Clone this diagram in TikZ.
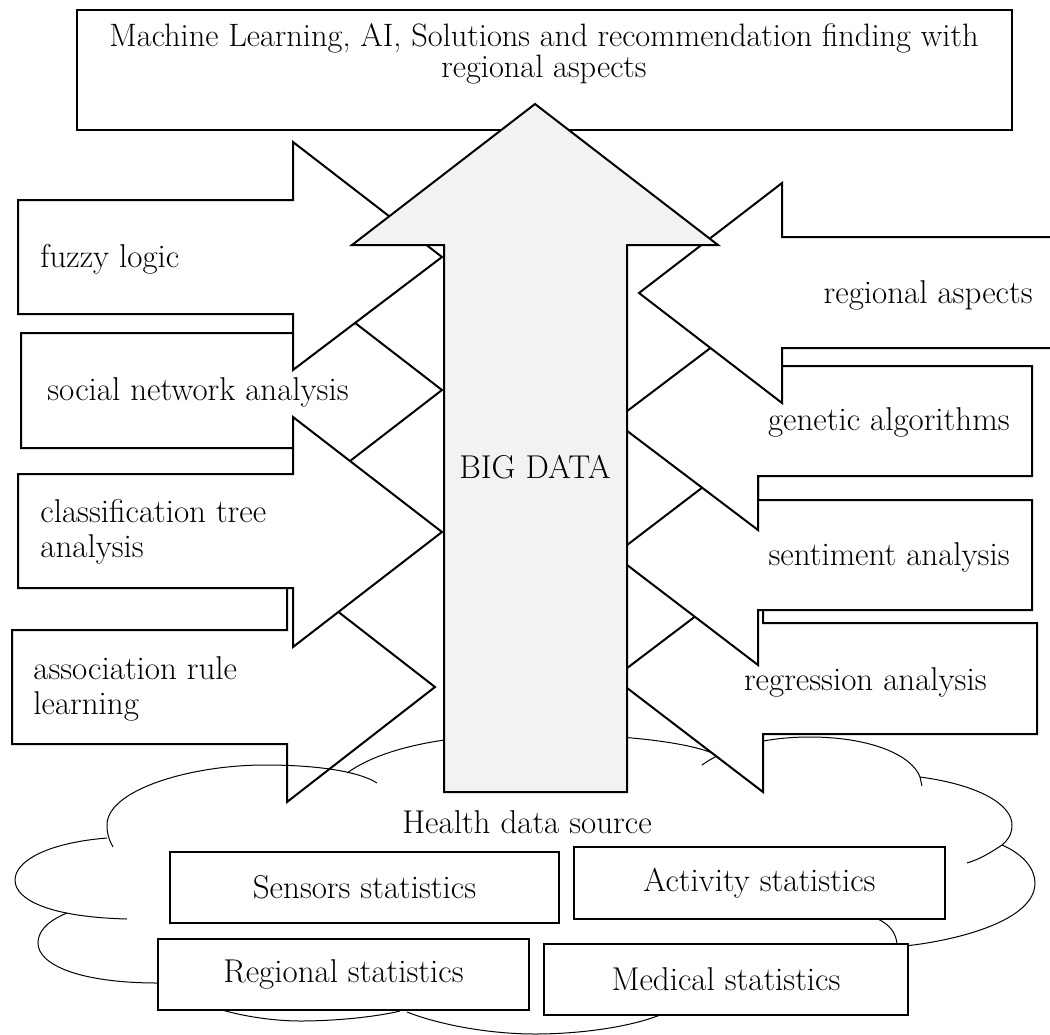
\documentclass[tikz,border=0pt]{standalone}
\usepackage{tikz}

\begin{document}
\begin{tikzpicture}[x=0.5pt,y=-0.5pt,line join=miter,
		blockarrow/.style={draw, fill=white, line width=1pt},
		bigarrow/.style={draw, fill=black!5, line width=1pt},
		cloudline/.style={line width=0.5pt},
		label/.style={inner sep=0pt, font=\fontsize{16.5}{17.5}\selectfont, align=left},
		statbox/.style={draw, fill=white, line width=1pt, inner sep=0pt, minimum height=35.5pt, font=\fontsize{16.5}{17.5}\selectfont}]
		\useasboundingbox (0,0) rectangle (1050,1034);
		% goal on top
		\draw[line width=0.6pt] (77,10) rectangle (1012,130);
		\node[label, align=center, font=\fontsize{16.2}{15.5}\selectfont] (goal) at (544,54) {Machine Learning, AI, Solutions and recommendation finding with\\regional aspects};
		% methods on the left
		\draw[blockarrow] (21,333) -- (293,333) -- (293,275) -- (442,390) -- (293,505) -- (293,448) -- (21,448) -- cycle;
		\node[label, anchor=west] (social) at (47,392) {social network analysis};
		\draw[blockarrow] (12,630) -- (287,630) -- (287,572) -- (435,687) -- (287,802) -- (287,744) -- (12,744) -- cycle;
		\node[label, anchor=west] (assoc) at (33,689) {association rule\\learning};
		\draw[blockarrow] (18,474) -- (293,474) -- (293,417) -- (442,532) -- (293,647) -- (293,588) -- (18,588) -- cycle;
		\node[label, anchor=west] (classif) at (40,532) {classification tree\\analysis};
		\draw[blockarrow] (18,200) -- (293,200) -- (293,142) -- (442,257) -- (293,370) -- (293,314) -- (18,314) -- cycle;
		\node[label, anchor=west] (fuzzy) at (40,259) {fuzzy logic};
		% cloud
		\draw[cloudline] (158,983) .. controls (80,983) and (38,965) .. (38,943) .. controls (38,933) and (45,922) .. (67,913);
		\draw[cloudline] (107,838) .. controls (45,843) and (15,862) .. (15,880) .. controls (15,900) and (50,917) .. (127,919);
		\draw[cloudline] (113,847) .. controls (108,838) and (107,832) .. (107,825) .. controls (107,790) and (190,765) .. (265,765) .. controls (320,765) and (360,772) .. (377,783);
		\draw[cloudline] (347,773) .. controls (390,742) and (470,734) .. (535,734) .. controls (620,734) and (690,742) .. (717,755);
		\draw[cloudline] (702,765) .. controls (730,745) and (770,737) .. (810,737) .. controls (870,737) and (912,755) .. (920,777) -- (922,786);
		\draw[cloudline] (920,777) .. controls (980,785) and (1012,805) .. (1012,825) .. controls (1012,835) and (1007,841) .. (1002,845) .. controls (990,853) and (980,859) .. (967,863);
		\draw[cloudline] (1002,845) .. controls (1025,855) and (1035,870) .. (1035,883) .. controls (1035,920) and (960,940) .. (905,946);
		\draw[cloudline] (878,919) .. controls (890,925) and (896,933) .. (897,944);
		\draw[cloudline] (407,1012) .. controls (440,1025) and (490,1034) .. (535,1034) .. controls (580,1034) and (630,1027) .. (660,1015);
		\draw[cloudline] (222,1010) .. controls (250,1018) and (280,1021) .. (300,1021) .. controls (340,1021) and (380,1016) .. (400,1011);
		% methods on the right
		\draw[blockarrow] (1037,623) -- (763,623) -- (763,565) -- (614,678) -- (763,792) -- (763,734) -- (1037,734) -- cycle;
		\node[label, anchor=east] (regress) at (987,682) {regression analysis};
		\draw[blockarrow] (1032,500) -- (758,500) -- (758,445) -- (614,555) -- (758,665) -- (758,610) -- (1032,610) -- cycle;
		\node[label, anchor=east] (sentiment) at (1010,557) {sentiment analysis};
		\draw[blockarrow] (1032,366) -- (758,366) -- (758,312) -- (614,421) -- (758,530) -- (758,476) -- (1032,476) -- cycle;
		\node[label, anchor=east] (genetic) at (1010,422) {genetic algorithms};
		\draw[blockarrow] (1070,237) -- (782,237) -- (782,183) -- (639,293) -- (782,403) -- (782,348) -- (1070,348) -- cycle;
		\node[label, anchor=east] (regional) at (1033,295) {regional aspects};
		% big data
		\draw[bigarrow] (444,792) -- (444,245) -- (352,245) -- (535,104) -- (718,245) -- (627,245) -- (627,792) -- cycle;
		\node[label] (bigdata) at (535,467) {BIG DATA};
		% data sources
		\node[label] (source) at (527,822) {Health data source};
		\node[statbox, minimum width=194.5pt] (sensors) at (364.5,887.5) {Sensors statistics};
		\node[statbox, minimum width=185.5pt, minimum height=36pt] (activity) at (759.5,883) {Activity statistics};
		\node[statbox, minimum width=185.5pt] (regstat) at (343.5,974.5) {Regional statistics};
		\node[statbox, minimum width=182pt] (medical) at (726,979.5) {Medical statistics};
	\end{tikzpicture}
\end{document}
